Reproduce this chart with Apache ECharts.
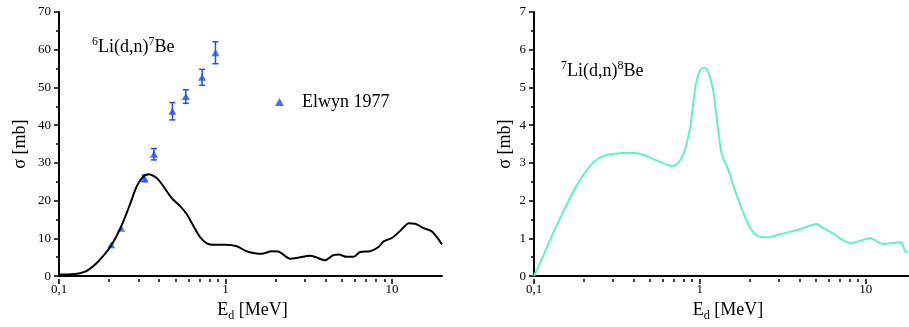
<!DOCTYPE html>
<html>
<head>
<meta charset="utf-8">
<script src="https://cdn.jsdelivr.net/npm/echarts@6/dist/echarts.min.js"></script>
<style>
  html, body { margin: 0; padding: 0; background: #fff; }
  #chart { width: 909px; height: 327px; }
</style>
</head>
<body>
<div id="chart"></div>
<script>
// 6Li(d,n)7Be evaluated cross section (left panel)
const liSixE = [0.1, 0.115, 0.128, 0.147, 0.168, 0.185, 0.206, 0.233, 0.267, 0.293, 0.321, 0.344, 0.386, 0.424, 0.475, 0.533, 0.586, 0.642, 0.705, 0.773, 0.847, 1.0, 1.17, 1.34, 1.65, 1.9, 2.08, 2.45, 2.69, 3.23, 3.46, 3.97, 4.46, 4.78, 5.36, 5.88, 6.45, 7.41, 8.31, 8.91, 10, 10.97, 11.86, 12.6, 13.8, 15.5, 17.4, 20]
const liSixSigma = [0.4, 0.45, 0.6, 1.4, 3.4, 5.4, 8.1, 12.5, 19, 23.8, 26.4, 27.0, 26, 23.8, 20.7, 18.6, 16.4, 13.3, 10.3, 8.7, 8.3, 8.3, 7.9, 6.6, 5.9, 6.6, 6.5, 4.6, 4.8, 5.4, 5.1, 4.2, 5.6, 5.7, 5.1, 5.1, 6.4, 6.6, 7.7, 9.2, 10.1, 11.6, 13.1, 14.0, 13.9, 12.7, 11.8, 8.4]

// Elwyn 1977 measurements
const elwynE = [0.206, 0.236, 0.327, 0.372, 0.48, 0.578, 0.724, 0.871]
const elwynSigma = [8.3, 12.7, 25.9, 32.3, 43.7, 47.6, 52.7, 59.2]
const elwynErr = [0, 0, 0.9, 1.5, 2.3, 1.8, 2.1, 2.9]

// 7Li(d,n)8Be evaluated cross section (right panel)
const liSevenE = [0.1, 0.114, 0.131, 0.151, 0.173, 0.199, 0.229, 0.263, 0.316, 0.381, 0.458, 0.551, 0.634, 0.695, 0.764, 0.818, 0.877, 0.942, 1.01, 1.07, 1.14, 1.21, 1.28, 1.36, 1.47, 1.61, 1.81, 2.03, 2.28, 2.56, 3.08, 3.7, 4.46, 5.05, 5.62, 6.45, 7.08, 8.13, 9.35, 10.7, 11.8, 12.9, 14.9, 16.3, 17.5, 18]
const liSevenSigma = [0, 0.55, 1.16, 1.73, 2.25, 2.69, 3.02, 3.19, 3.25, 3.27, 3.21, 3.06, 2.95, 2.92, 3.08, 3.38, 3.99, 5.04, 5.47, 5.52, 5.34, 4.86, 3.99, 3.21, 2.86, 2.34, 1.73, 1.25, 1.05, 1.03, 1.12, 1.2, 1.31, 1.38, 1.25, 1.12, 0.99, 0.88, 0.94, 1.01, 0.9, 0.85, 0.88, 0.9, 0.64, 0.66]

// x axis tick positions (MeV)
const majorTicks = [0.1, 1, 10]
const minorTicks = [0.2, 0.3, 0.4, 0.5, 0.6, 0.7, 0.8, 0.9, 2, 3, 4, 5, 6, 7, 8, 9]

const FONT = 'Liberation Serif'
const BLUE = '#1f4fff'
const CYAN = '#62f0c8'

const zip = (xs, ys) => xs.map((x, i) => [x, ys[i]])

const leftGrid = { left: 59, top: 12, width: 383, height: 267 }
const rightGrid = { left: 534, top: 12, width: 374, height: 267 }

const nameRich = {
  m: { fontFamily: FONT, fontSize: 18, color: '#000', lineHeight: 20, verticalAlign: 'top' },
  sub: { fontFamily: FONT, fontSize: 12, color: '#000', lineHeight: 20, verticalAlign: 'top', padding: [9, 0, 0, 0] },
}
const titleRich = {
  m: { fontFamily: FONT, fontSize: 18, fontWeight: 'normal', color: '#000', lineHeight: 20, verticalAlign: 'bottom', padding: [6, 0, 0, 0] },
  sup: { fontFamily: FONT, fontSize: 12, fontWeight: 'normal', color: '#000', lineHeight: 14, verticalAlign: 'top' },
}

const logAxis = (grid, max, namePad) => ({
  type: 'log', logBase: 10, gridIndex: grid, min: 0.1, max: max,
  name: '{m|E}{sub|d}{m| [MeV]}', nameLocation: 'middle', nameGap: 21,
  nameTextStyle: { rich: nameRich, padding: namePad },
  axisLine: { show: true, lineStyle: { color: '#000', width: 2 } },
  axisTick: { show: false },
  splitLine: { show: false },
  minorSplitLine: { show: false },
  axisLabel: {
    fontFamily: FONT, fontSize: 13, color: '#000', margin: 7, showMaxLabel: false,
    formatter: (v) => String(v).replace('.', ','),
  },
})

// hidden helper axis drawing ticks at decades / sub-decades on the same grid
const tickAxis = (grid, max, values, len) => ({
  type: 'value', gridIndex: grid, min: -1, max: Math.log10(max), position: 'bottom',
  axisLine: { show: false },
  axisLabel: { show: false },
  splitLine: { show: false },
  axisTick: { show: true, customValues: values.map(Math.log10), length: len, lineStyle: { color: '#000', width: 1.5 } },
})

const sigmaAxis = (grid, max, interval, gap) => ({
  type: 'value', gridIndex: grid, min: 0, max: max, interval: interval,
  name: 'σ [mb]', nameLocation: 'middle', nameGap: gap, nameRotate: 90,
  nameTextStyle: { fontFamily: FONT, fontSize: 18, color: '#000' },
  axisLine: { show: true, lineStyle: { color: '#000', width: 2 } },
  axisTick: { show: true, length: 5, lineStyle: { color: '#000', width: 1.5 } },
  minorTick: { show: true, splitNumber: 2, length: 3, lineStyle: { color: '#000', width: 1.5 } },
  splitLine: { show: false },
  axisLabel: { fontFamily: FONT, fontSize: 13, color: '#000', margin: 8 },
})

const hiddenY = (grid) => ({ type: 'value', gridIndex: grid, min: 0, max: 1, show: false })

const chart = echarts.init(document.getElementById('chart'), null, { renderer: 'canvas' })

chart.setOption({
  animation: false,
  backgroundColor: '#fff',
  textStyle: { fontFamily: FONT },
  title: [
    { text: '{sup|6}{m|Li(d,n)}{sup|7}{m|Be}', left: 92, top: 36, padding: 0, textStyle: { fontWeight: 'normal', rich: titleRich } },
    { text: '{sup|7}{m|Li(d,n)}{sup|8}{m|Be}', left: 561, top: 60, padding: 0, textStyle: { fontWeight: 'normal', rich: titleRich } },
  ],
  legend: {
    data: ['Elwyn 1977'], left: 275, top: 93, padding: 0,
    icon: 'triangle', itemWidth: 9, itemHeight: 8,
    textStyle: { fontFamily: FONT, fontSize: 18, color: '#000', padding: [0, 0, 0, 13] },
  },
  grid: [leftGrid, leftGrid, leftGrid, rightGrid, rightGrid, rightGrid],
  xAxis: [
    logAxis(0, 20, [0, 0, 0, 4]),
    tickAxis(1, 20, majorTicks, 5),
    tickAxis(2, 20, minorTicks, 3),
    logAxis(3, 18, [0, 0, 0, 14]),
    tickAxis(4, 18, majorTicks, 5),
    tickAxis(5, 18, minorTicks, 3),
  ],
  yAxis: [
    sigmaAxis(0, 70, 10, 30),
    hiddenY(1),
    hiddenY(2),
    sigmaAxis(3, 7, 1, 20),
    hiddenY(4),
    hiddenY(5),
  ],
  series: [
    {
      name: '6Li', type: 'line', xAxisIndex: 0, yAxisIndex: 0,
      data: zip(liSixE, liSixSigma), smooth: 0.3, showSymbol: false,
      lineStyle: { color: '#000', width: 2 }, itemStyle: { color: '#000' },
    },
    {
      name: 'Elwyn errors', type: 'custom', xAxisIndex: 0, yAxisIndex: 0,
      data: elwynE.map((e, i) => [e, elwynSigma[i] - elwynErr[i], elwynSigma[i] + elwynErr[i]]).filter((d) => d[2] > d[1]),
      encode: { x: 0, y: [1, 2] },
      renderItem: (params, api) => {
        const lo = api.coord([api.value(0), api.value(1)])
        const hi = api.coord([api.value(0), api.value(2)])
        const w = 3
        const style = { stroke: BLUE, lineWidth: 1.5 }
        return {
          type: 'group',
          children: [
            { type: 'line', shape: { x1: lo[0], y1: lo[1], x2: hi[0], y2: hi[1] }, style },
            { type: 'line', shape: { x1: lo[0] - w, y1: lo[1], x2: lo[0] + w, y2: lo[1] }, style },
            { type: 'line', shape: { x1: hi[0] - w, y1: hi[1], x2: hi[0] + w, y2: hi[1] }, style },
          ],
        }
      },
    },
    {
      name: 'Elwyn 1977', type: 'scatter', xAxisIndex: 0, yAxisIndex: 0,
      data: zip(elwynE, elwynSigma), symbol: 'triangle', symbolSize: [8, 7],
      itemStyle: { color: BLUE },
    },
    {
      name: '7Li', type: 'line', xAxisIndex: 3, yAxisIndex: 3,
      data: zip(liSevenE, liSevenSigma), smooth: 0.3, showSymbol: false,
      lineStyle: { color: CYAN, width: 2 }, itemStyle: { color: CYAN },
    },
  ],
})
</script>
</body>
</html>
